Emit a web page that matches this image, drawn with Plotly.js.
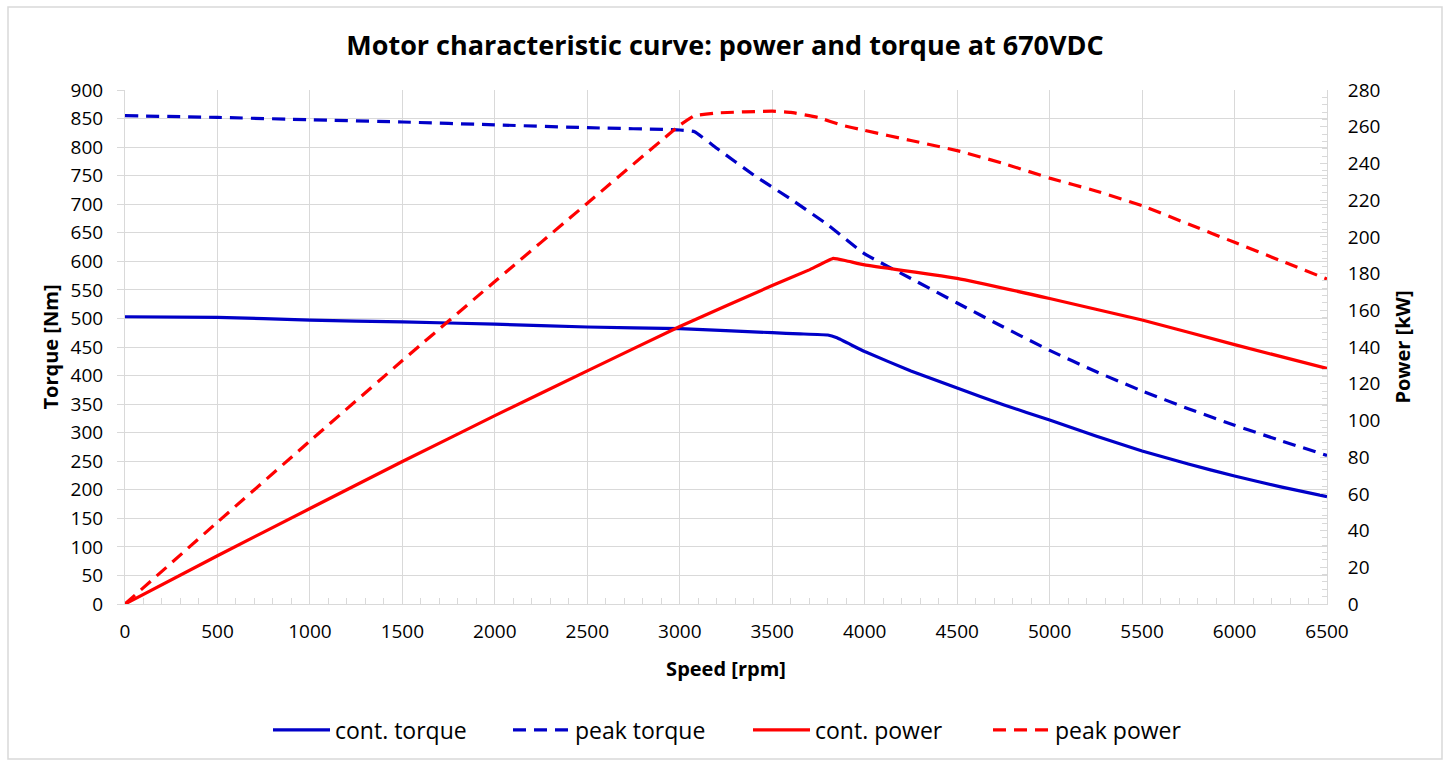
<!DOCTYPE html>
<html>
<head>
<meta charset="utf-8">
<script src="https://cdn.plot.ly/plotly-3.0.1.min.js"></script>
<style>
html,body{margin:0;padding:0;background:#fff;}
#chart{width:1450px;height:760px;}
</style>
</head>
<body>
<div id="chart"></div>
<script>
// Speed [rpm] and values
const contTorqueSpeed = [0, 500, 1000, 1500, 2000, 2500, 3000, 3500, 3650, 3800, 3850, 4000, 4250, 4500, 4750, 5000, 5250, 5500, 5750, 6000, 6250, 6500];
const contTorque      = [503, 502, 497, 494, 490, 485, 482, 475, 473, 471, 466, 442, 408, 378, 349, 322, 294, 268, 245, 224, 205, 188];

const peakTorqueSpeed = [0, 500, 1000, 1500, 2000, 2500, 3000, 3080, 3200, 3400, 3600, 3800, 4000, 4250, 4500, 4750, 5000, 5250, 5500, 5750, 6000, 6250, 6500];
const peakTorque      = [855, 852, 848, 844, 839, 834, 830, 827, 798, 751, 709, 664, 613, 570, 527, 485, 444, 407, 373, 342, 313, 286, 260];

const contPowerSpeed = [0, 500, 1000, 1500, 2000, 2500, 3000, 3500, 3700, 3830, 3900, 4000, 4500, 5000, 5500, 6000, 6500];
const contPower      = [0, 26.3, 52.0, 77.6, 102.6, 127, 151.2, 173.5, 182, 188.3, 187, 184.7, 177.4, 166.4, 154.7, 141.3, 128.3];

const peakPowerSpeed = [0, 500, 1000, 1500, 2000, 2500, 3000, 3080, 3200, 3500, 3600, 3750, 3870, 4000, 4250, 4500, 4750, 5000, 5250, 5500, 5750, 6000, 6250, 6500];
const peakPower      = [0, 44.6, 88.8, 132.6, 175.7, 218.3, 260.8, 266, 267.5, 268.5, 267.8, 265, 261, 258, 252.5, 247, 240, 232, 225, 217, 207, 197, 187, 177];

const seriesNames = ['cont. torque', 'peak torque', 'cont. power', 'peak power'];
const titleText = 'Motor characteristic curve: power and torque at 670VDC';
const xTitle = 'Speed [rpm]';
const yTitle = 'Torque [Nm]';
const y2Title = 'Power [kW]';

const BLUE = '#0000C8';
const RED = '#FF0000';
const FONT = 'Open Sans, Noto Sans, sans-serif';
const DASH = '13px,8px';

const traces = [
  {x: contTorqueSpeed, y: contTorque, name: seriesNames[0], type: 'scatter', mode: 'lines',
   line: {color: BLUE, width: 3.2, shape: 'spline', smoothing: 0.3}, yaxis: 'y'},
  {x: peakTorqueSpeed, y: peakTorque, name: seriesNames[1], type: 'scatter', mode: 'lines',
   line: {color: BLUE, width: 3.2, dash: DASH, shape: 'spline', smoothing: 0.3}, yaxis: 'y'},
  {x: contPowerSpeed, y: contPower, name: seriesNames[2], type: 'scatter', mode: 'lines',
   line: {color: RED, width: 3.2, shape: 'spline', smoothing: 0.3}, yaxis: 'y2'},
  {x: peakPowerSpeed, y: peakPower, name: seriesNames[3], type: 'scatter', mode: 'lines',
   line: {color: RED, width: 3.2, dash: DASH, shape: 'spline', smoothing: 0.3}, yaxis: 'y2'}
];

const GRID = '#d9d9d9';
const PH = 514, PW = 1202, PL = 125, PB = 604;

const layout = {
  width: 1450, height: 760,
  margin: {l: PL, r: 1450 - PL - PW, t: PB - PH, b: 760 - PB, pad: 0, autoexpand: false},
  paper_bgcolor: '#ffffff', plot_bgcolor: '#ffffff',
  font: {family: FONT, size: 19, color: '#000000'},
  title: {text: '<b>' + titleText + '</b>', font: {family: FONT, size: 27, color: '#000'},
          x: 0.5, xanchor: 'center', y: 1 - 46 / 760, yanchor: 'middle'},
  showlegend: true,
  legend: {orientation: 'h', x: (748 - PL) / PW, xanchor: 'center', y: -(730 - PB) / PH, yanchor: 'middle',
           font: {family: FONT, size: 23, color: '#000'}, itemwidth: 57, entrywidth: 168,
           bgcolor: 'rgba(0,0,0,0)', traceorder: 'normal'},
  xaxis: {range: [0, 6500], dtick: 500, tick0: 0, showgrid: true, gridcolor: GRID, gridwidth: 1,
          showline: true, linecolor: GRID, linewidth: 1, zeroline: false, automargin: false,
          ticks: '', ticklabelstandoff: 10,
          minor: {dtick: 100, ticks: 'inside', ticklen: 6, tickcolor: GRID, showgrid: false},
          tickfont: {family: FONT, size: 19, color: '#000'},
          title: {text: '<b>' + xTitle + '</b>', font: {family: FONT, size: 20, color: '#000'}, standoff: 19},
          fixedrange: true},
  yaxis: {range: [0, 900], dtick: 50, tick0: 0, showgrid: true, gridcolor: GRID, gridwidth: 1,
          showline: true, linecolor: GRID, linewidth: 1, zeroline: false, automargin: false,
          ticks: 'outside', ticklen: 7, tickcolor: GRID, ticklabelstandoff: 10,
          tickfont: {family: FONT, size: 19, color: '#000'},
          title: {text: '<b>' + yTitle + '</b>', font: {family: FONT, size: 20, color: '#000'}, standoff: 6},
          fixedrange: true},
  yaxis2: {range: [0, 280], dtick: 20, tick0: 0, overlaying: 'y', side: 'right', showgrid: false,
           showline: true, linecolor: GRID, linewidth: 1, zeroline: false, automargin: false,
           ticks: 'inside', ticklen: 7, tickcolor: GRID, ticklabelstandoff: 16,
           minor: {dtick: 4, ticks: 'inside', ticklen: 5, tickcolor: GRID, showgrid: false},
           tickfont: {family: FONT, size: 19, color: '#000'},
           title: {text: '<b>' + y2Title + '</b>', font: {family: FONT, size: 20, color: '#000'}, standoff: 16},
           fixedrange: true},
  shapes: [{type: 'rect', xref: 'paper', yref: 'paper',
            x0: (8 - PL) / PW, x1: (1442 - PL) / PW, y0: (PB - 759) / PH, y1: (PB - 7) / PH,
            line: {color: GRID, width: 1.5}, fillcolor: 'rgba(0,0,0,0)', layer: 'below'}]
};

Plotly.newPlot('chart', traces, layout, {displayModeBar: false, staticPlot: true});
</script>
</body>
</html>
